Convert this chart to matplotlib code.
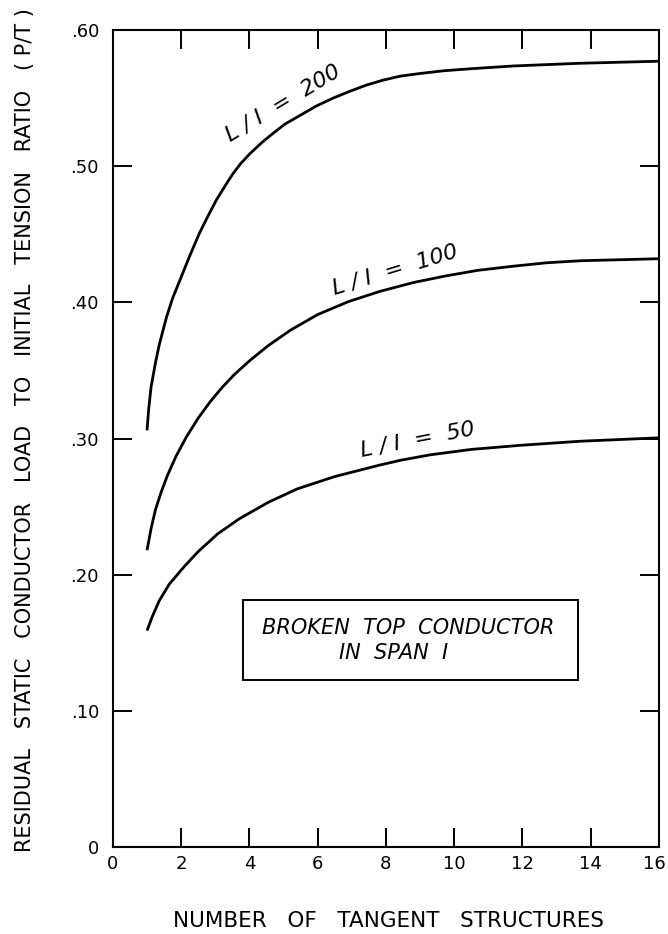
import matplotlib
matplotlib.use("Agg")
import matplotlib.pyplot as plt
from matplotlib.patches import Rectangle
from matplotlib.transforms import ScaledTranslation

matplotlib.rcParams['font.family'] = 'sans-serif'
matplotlib.rcParams['font.sans-serif'] = ['DejaVu Sans']

# 曲线数据 (number of tangent structures vs. P/T)
x_200 = [1.0, 1.05, 1.12, 1.25, 1.36, 1.57, 1.75, 1.96, 2.25, 2.54, 2.8, 3.03, 3.3,
         3.52, 3.75, 4.01, 4.35, 4.69, 5.05, 5.47, 5.95, 6.46, 6.95, 7.43, 7.9,
         8.41, 9.0, 9.7, 10.5, 11.73, 13.69, 16.0]
y_200 = [0.306, 0.322, 0.338, 0.356, 0.369, 0.389, 0.403, 0.416, 0.434, 0.451,
         0.464, 0.475, 0.486, 0.4945, 0.502, 0.509, 0.517, 0.524, 0.531, 0.537,
         0.544, 0.550, 0.555, 0.5595, 0.563, 0.566, 0.568, 0.570, 0.5715, 0.5735,
         0.5755, 0.577]

x_100 = [1.0, 1.12, 1.25, 1.42, 1.6, 1.85, 2.15, 2.5, 2.85, 3.2, 3.56, 4.0, 4.54,
         5.2, 6.0, 6.9, 7.82, 8.8, 9.78, 10.7, 11.73, 12.7, 13.69, 16.0]
y_100 = [0.218, 0.234, 0.248, 0.261, 0.273, 0.287, 0.301, 0.315, 0.327, 0.3375,
         0.347, 0.357, 0.368, 0.3795, 0.391, 0.4005, 0.408, 0.4145, 0.4195,
         0.4235, 0.4265, 0.429, 0.4305, 0.432]

x_50 = [1.0, 1.15, 1.36, 1.65, 2.09, 2.5, 3.07, 3.7, 4.54, 5.4, 6.49, 7.82, 8.42,
        9.29, 10.5, 11.94, 13.69, 16.0]
y_50 = [0.159, 0.169, 0.181, 0.193, 0.206, 0.217, 0.230, 0.241, 0.253, 0.263,
        0.272, 0.2805, 0.284, 0.288, 0.292, 0.295, 0.298, 0.3005]

curve_labels = ['L / I  =  200', 'L / I  =  100', 'L / I  =  50']
note_lines = ['BROKEN  TOP  CONDUCTOR', 'IN  SPAN  I']

x_ticks = [0, 2, 4, 6, 8, 10, 12, 14, 16]
x_ticklabels = ['0', '2', '4', '6', '8', '10', '12', '14', '16']
y_ticks = [0, 0.1, 0.2, 0.3, 0.4, 0.5, 0.6]
y_ticklabels = ['0', '.10', '.20', '.30', '.40', '.50', '.60']

fig = plt.figure(figsize=(6.68, 9.34), dpi=100)
ax = fig.add_axes([0.169, 0.093, 0.8175, 0.875])

lw = 2.0
for xs, ys in [(x_200, y_200), (x_100, y_100), (x_50, y_50)]:
    ax.plot(xs, ys, color='black', lw=lw, solid_joinstyle='round', solid_capstyle='butt')

# 曲线标注
lab_font = {'style': 'italic', 'size': 16}
ax.text(4.99, 0.546, curve_labels[0], rotation=31, ha='center', va='center', fontdict=lab_font)
ax.text(8.27, 0.424, curve_labels[1], rotation=17, ha='center', va='center', fontdict=lab_font)
ax.text(8.93, 0.299, curve_labels[2], rotation=11, ha='center', va='center', fontdict=lab_font)

# 方框说明
ax.add_patch(Rectangle((3.80, 0.1226), 13.62 - 3.80, 0.1813 - 0.1226,
                       facecolor='white', edgecolor='black', linewidth=1.4, zorder=3))
ax.text(8.64, 0.1612, note_lines[0], ha='center', va='center', style='italic', fontsize=15, zorder=4)
ax.text(8.21, 0.1428, note_lines[1], ha='center', va='center', style='italic', fontsize=15, zorder=4)

ax.set_xlim(0, 16)
ax.set_ylim(0, 0.6)
ax.set_xticks(x_ticks)
ax.set_xticklabels(x_ticklabels)
ax.set_yticks(y_ticks)
ax.set_yticklabels(y_ticklabels)
ax.tick_params(direction='in', length=14, width=1.4, top=True, right=True, labelsize=13)
ax.tick_params(axis='x', pad=6)
ax.tick_params(axis='y', pad=10)

# 最右边的 "16" 贴着图边, 右对齐以免被裁掉
last = ax.get_xticklabels()[-1]
last.set_ha('right')
last.set_transform(last.get_transform() + ScaledTranslation(7 / 100, 0, fig.dpi_scale_trans))

ax.set_xlabel('NUMBER   OF   TANGENT   STRUCTURES', fontsize=15.5)
ax.xaxis.set_label_coords(0.5046, -0.0906)
ax.xaxis.label.set_verticalalignment('center')
ax.set_ylabel('RESIDUAL   STATIC   CONDUCTOR   LOAD   TO   INITIAL   TENSION   RATIO   ( P/T )',
              fontsize=15)
ax.yaxis.set_label_coords(-0.161, 0.510)
ax.yaxis.label.set_verticalalignment('center')

bwith = 1.5
for s in ['bottom', 'left', 'top', 'right']:
    ax.spines[s].set_linewidth(bwith)

plt.savefig('out.png', dpi=100)
